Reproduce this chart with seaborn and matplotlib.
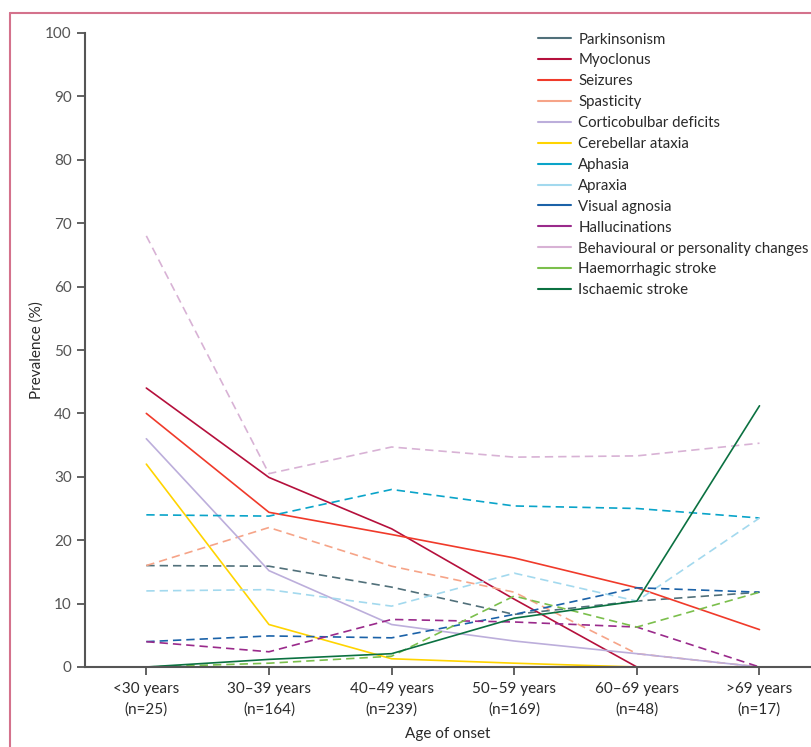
import matplotlib
matplotlib.use("Agg")
import matplotlib.pyplot as plt
from matplotlib.lines import Line2D
import seaborn as sns
import pandas as pd

# === Data: prevalence (%) of each feature by age of onset ===
age_groups = ["<30 years\n(n=25)", "30–39 years\n(n=164)", "40–49 years\n(n=239)",
              "50–59 years\n(n=169)", "60–69 years\n(n=48)", ">69 years\n(n=17)"]

parkinsonism = [16.0, 15.9, 12.6, 8.3, 10.4, 11.8]
myoclonus = [44.0, 29.9, 21.8, 10.7, 0.0, 0.0]
seizures = [40.0, 24.4, 20.9, 17.2, 12.5, 5.9]
spasticity = [16.0, 22.0, 15.9, 11.8, 2.1, 0.0]
corticobulbar = [36.0, 15.2, 6.7, 4.1, 2.1, 0.0]
cerebellar = [32.0, 6.7, 1.3, 0.6, 0.0, 0.0]
aphasia = [24.0, 23.8, 28.0, 25.4, 25.0, 23.5]
apraxia = [12.0, 12.2, 9.6, 14.8, 10.4, 23.5]
visual_agnosia = [4.0, 4.9, 4.6, 8.3, 12.5, 11.8]
hallucinations = [4.0, 2.4, 7.5, 7.1, 6.3, 0.0]
behavioural = [68.0, 30.5, 34.7, 33.1, 33.3, 35.3]
haemorrhagic = [0.0, 0.6, 1.7, 11.2, 6.3, 11.8]
ischaemic = [0.0, 1.2, 2.1, 7.7, 10.4, 41.2]

labels = ["Parkinsonism", "Myoclonus", "Seizures", "Spasticity", "Corticobulbar deficits",
          "Cerebellar ataxia", "Aphasia", "Apraxia", "Visual agnosia", "Hallucinations",
          "Behavioural or personality changes", "Haemorrhagic stroke", "Ischaemic stroke"]
series = [parkinsonism, myoclonus, seizures, spasticity, corticobulbar, cerebellar, aphasia,
          apraxia, visual_agnosia, hallucinations, behavioural, haemorrhagic, ischaemic]
colors = ["#51707a", "#b5103c", "#f03a2a", "#f6a488", "#bcaedb", "#ffd400", "#0aa4c9",
          "#a3d9ee", "#1b62a8", "#9a2a8b", "#d8b2d5", "#7bbf4c", "#0b7141"]
dashed = ["Parkinsonism", "Spasticity", "Aphasia", "Apraxia", "Visual agnosia",
          "Hallucinations", "Behavioural or personality changes", "Haemorrhagic stroke"]

rows = []
for lab, vals in zip(labels, series):
    for i, v in enumerate(vals):
        rows.append({"age": i, "prevalence": v, "feature": lab})
df = pd.DataFrame(rows)

# === Plot ===
sns.set_style("ticks")
plt.rcParams["font.family"] = ["Lato", "DejaVu Sans"]
txt = "#2a2a2a"

fig = plt.figure(figsize=(8.11, 7.47), dpi=100)
ax = fig.add_axes([85 / 811, 1 - 667 / 747, 1 - 85 / 811, (667 - 33) / 747])

palette = dict(zip(labels, colors))
dash_map = {lab: ((5, 3) if lab in dashed else "") for lab in labels}
sns.lineplot(data=df, x="age", y="prevalence", hue="feature", style="feature",
             palette=palette, dashes=dash_map, hue_order=labels, style_order=labels,
             linewidth=1.2, legend=False, ax=ax, clip_on=False)

ax.set_xlim(-0.5, 5.42)
ax.set_ylim(0, 100)
ax.set_yticks(range(0, 101, 10))
ax.set_xticks(range(len(age_groups)))
ax.set_xticklabels(age_groups, fontsize=11, color=txt, linespacing=1.5)
ax.tick_params(axis="y", labelsize=11, labelcolor=txt)
ax.tick_params(colors="#555555", width=1.3, length=6)
ax.tick_params(axis="x", pad=5, labelcolor=txt)
for s in ["left", "bottom"]:
    ax.spines[s].set_color("#555555")
    ax.spines[s].set_linewidth(1.5)
ax.spines["top"].set_visible(False)
ax.spines["right"].set_visible(False)
ax.set_xlabel("Age of onset", fontsize=11, color=txt, labelpad=8)
ax.set_ylabel("Prevalence (%)", fontsize=11, color=txt, labelpad=1)

handles = [Line2D([], [], color=c, lw=1.5) for c in colors]
fig.legend(handles, labels, loc="upper left", bbox_to_anchor=(524 / 811, 1 - 19 / 747),
           frameon=False, fontsize=10.8, labelspacing=0.46, handlelength=2.2,
           handletextpad=0.52, labelcolor=txt)

# pink frame on the left and top
fig.add_artist(Line2D([10 / 811, 10 / 811], [0, 1 - 13 / 747], color="#d4728c", lw=1.5))
fig.add_artist(Line2D([10 / 811, 1], [1 - 13 / 747, 1 - 13 / 747], color="#d4728c", lw=1.5))

fig.savefig("out.png", dpi=100)
